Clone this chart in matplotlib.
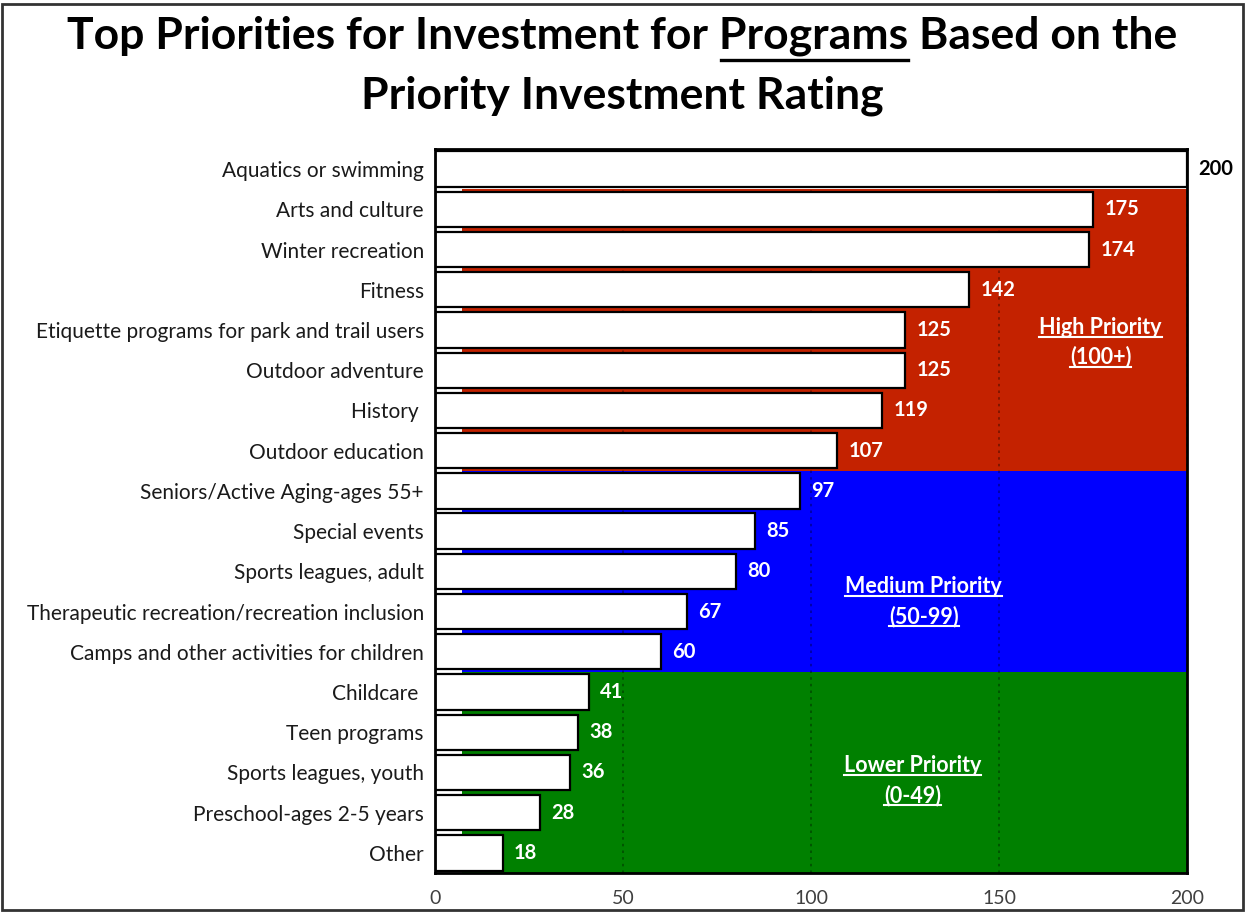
import matplotlib
matplotlib.use("Agg")
import matplotlib.pyplot as plt
from matplotlib.lines import Line2D
from matplotlib.patches import Rectangle

plt.rcParams['font.family'] = ['Lato', 'DejaVu Sans']

categories = ["Aquatics or swimming", "Arts and culture", "Winter recreation", "Fitness",
              "Etiquette programs for park and trail users", "Outdoor adventure", "History ",
              "Outdoor education", "Seniors/Active Aging-ages 55+", "Special events",
              "Sports leagues, adult", "Therapeutic recreation/recreation inclusion",
              "Camps and other activities for children", "Childcare ", "Teen programs",
              "Sports leagues, youth", "Preschool-ages 2-5 years", "Other"]
values = [200, 175, 174, 142, 125, 125, 119, 107, 97, 85, 80, 67, 60, 41, 38, 36, 28, 18]
xticks = [0, 50, 100, 150, 200]

band_labels = [("High Priority", "(100+)"), ("Medium Priority", "(50-99)"), ("Lower Priority", "(0-49)")]
band_colors = ["#C42200", "#0000FF", "#008000"]
band_edges = [0.5, 7.5, 12.5, 17.5]
band_label_x = [177, 130, 127]
band_label_y = [(3.88, 4.62), (10.32, 11.07), (14.77, 15.52)]

W, H = 1245, 913
fig = plt.figure(figsize=(W / 100, H / 100), dpi=100)
ax = fig.add_axes([435 / W, 1 - 873 / H, (1187 - 435) / W, (873 - 149) / H])

n = len(categories)
ypos = list(range(n))

for i, c in enumerate(band_colors):
    ax.axhspan(band_edges[i], band_edges[i + 1], color=c, zorder=0, lw=0)

# little white stubs in the gaps at the left (as in the original)
for i in range(n - 1):
    ax.add_patch(Rectangle((0, i + 0.44), 7.2, 0.12, facecolor="white", edgecolor="none", zorder=1))
ax.add_patch(Rectangle((0, n - 1 + 0.44), 7.2, 0.06, facecolor="#777777", edgecolor="none", zorder=1))

ax.barh(ypos, values, height=0.88, color="white", edgecolor="black", linewidth=1.6, zorder=3)

ax.set_xlim(0, 200)
ax.set_ylim(n - 0.5, -0.5)
ax.set_yticks(ypos)
ax.set_yticklabels(categories, fontsize=15, color="#1a1a1a")
ax.set_xticks(xticks)
ax.set_xticklabels([str(t) for t in xticks], fontsize=14, color="#404040")
ax.tick_params(axis="both", length=0)
ax.tick_params(axis="y", pad=8)
ax.tick_params(axis="x", pad=12)
ax.grid(axis="x", linestyle=(0, (1.5, 2.5)), color="black", alpha=0.4, linewidth=1.2, zorder=0.5)
ax.grid(axis="y", visible=False)
for s in ax.spines.values():
    s.set_linewidth(2)
    s.set_color("black")
    s.set_zorder(5)

for i, v in enumerate(values):
    col = "black" if v >= 200 else "white"
    ax.text(v + 3, i, str(v), ha="left", va="center", fontsize=14.5, fontweight="bold",
            color=col, clip_on=False, zorder=6)

band_texts = []
for (l1, l2), bx, (y1, y2) in zip(band_labels, band_label_x, band_label_y):
    for txt, yy in ((l1, y1), (l2, y2)):
        t = ax.text(bx, yy + 0.22, txt, ha="center", va="baseline", fontsize=15.5, fontweight="bold",
                    color="white", zorder=6)
        band_texts.append(t)

title1 = "Top Priorities for Investment for Programs Based on the"
title2 = "Priority Investment Rating"
TB1 = 49
TB2 = 108
t1 = fig.text(0.5, 1 - TB1 / H, title1, ha="center", va="baseline", fontsize=32, fontweight="bold")
t2 = fig.text(0.5, 1 - TB2 / H, title2, ha="center", va="baseline", fontsize=32, fontweight="bold")

# figure border
fig.add_artist(Rectangle((0.002, 0.003), 0.996, 0.993, transform=fig.transFigure, fill=False,
                         edgecolor="#333333", linewidth=2))

fig.canvas.draw()
r = fig.canvas.get_renderer()


def text_width(s, ref):
    tmp = fig.text(0, 0, s, fontsize=ref.get_fontsize(), fontweight=ref.get_fontweight(),
                   fontfamily=ref.get_fontfamily())
    w = tmp.get_window_extent(r).width
    tmp.remove()
    return w


# underline "Programs"
bb = t1.get_window_extent(r)
w_a = text_width("Top Priorities for Investment for Programs", t1)
w_p = text_width("Programs", t1)
x0 = bb.x0 + w_a - w_p + 2
x1 = bb.x0 + w_a
base_y = (H - TB1) - 11
fig.add_artist(Line2D([x0 / W, x1 / W], [base_y / H, base_y / H], transform=fig.transFigure,
                      color="black", linewidth=2.4))

# underline band labels
for t in band_texts:
    b = t.get_window_extent(r)
    by = ax.transData.transform((0, t.get_position()[1]))[1] - 3
    fig.add_artist(Line2D([b.x0 / W, b.x1 / W], [by / H, by / H], transform=fig.transFigure,
                          color="white", linewidth=1.5, zorder=7))

fig.savefig("out.png", dpi=100)
